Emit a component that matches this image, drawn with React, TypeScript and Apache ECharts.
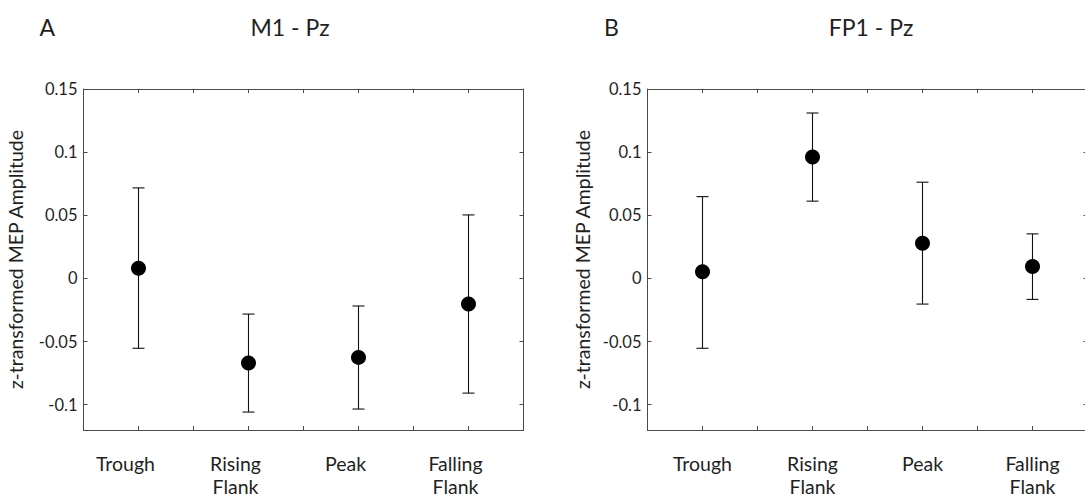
import React, { useEffect, useRef } from "react";
import * as echarts from "echarts";

const categories = ["Trough", "Rising\nFlank", "Peak", "Falling\nFlank"];
const yTicks = [-0.1, -0.05, 0, 0.05, 0.1, 0.15];
const xTickSteps = [0, 1, 2, 3, 4, 5, 6, 7, 8];

const panelLetters = ["A", "B"];
const panelTitles = ["M1 - Pz", "FP1 - Pz"];

const m1Mean = [0.008, -0.067, -0.0625, -0.0203];
const m1Lower = [-0.0553, -0.1058, -0.1034, -0.0908];
const m1Upper = [0.0717, -0.0282, -0.0218, 0.0503];

const fp1Mean = [0.0053, 0.0962, 0.0279, 0.0095];
const fp1Lower = [-0.0553, 0.0612, -0.0203, -0.0166];
const fp1Upper = [0.0648, 0.131, 0.0762, 0.0353];

const FONT = "Lato";
const TXT = "#1f1f1f";
const AX = "#4a4a4a";

export default function App() {
  const ref = useRef<HTMLDivElement>(null);

  useEffect(() => {
    if (!ref.current) return;
    const chart = echarts.init(ref.current, undefined, { renderer: "svg" });

    const grids = [
      { left: 83.5, right: 1085 - 523.5, top: 89, bottom: 69 },
      { left: 647.5, right: 1085 - 1087.5, top: 89, bottom: 69 },
    ];

    const xAxes: any[] = [];
    const yAxes: any[] = [];
    const series: any[] = [];

    const panels = [
      { mean: m1Mean, lo: m1Lower, hi: m1Upper, labelShift: 26 },
      { mean: fp1Mean, lo: fp1Lower, hi: fp1Upper, labelShift: 0 },
    ];

    panels.forEach((p, g) => {
      const catIdx = xAxes.length;
      xAxes.push({
        type: "category",
        gridIndex: g,
        data: categories,
        position: "bottom",
        boundaryGap: true,
        axisLine: { show: false, onZero: false },
        axisTick: { show: false },
        splitLine: { show: false },
        axisLabel: {
          interval: 0,
          margin: 22,
          fontFamily: FONT,
          fontSize: 19.5,
          lineHeight: 23,
          color: TXT,
          align: "center",
          padding: [0, p.labelShift, 0, 0],
        },
      });
      ["bottom", "top"].forEach((pos) => {
        xAxes.push({
          type: "value",
          gridIndex: g,
          position: pos,
          min: 0,
          max: 8,
          interval: 1,
          axisLine: { show: true, onZero: false, lineStyle: { color: AX, width: 1 } },
          axisTick: {
            show: true,
            inside: true,
            length: 4,
            lineStyle: { color: AX, width: 1 },
            customValues: xTickSteps,
          },
          axisLabel: { show: false },
          splitLine: { show: false },
        });
      });
      const yIdx = yAxes.length;
      ["left", "right"].forEach((pos) => {
        yAxes.push({
          type: "value",
          gridIndex: g,
          position: pos,
          min: -0.12,
          max: 0.15,
          name: pos === "left" ? "z-transformed MEP Amplitude" : "",
          nameLocation: "middle",
          nameGap: g === 0 ? 58 : 55,
          nameRotate: 90,
          nameTextStyle: { fontFamily: FONT, fontSize: 19.5, color: TXT },
          axisLine: { show: true, onZero: false, lineStyle: { color: AX, width: 1 } },
          axisTick: {
            show: true,
            inside: true,
            length: 4,
            lineStyle: { color: AX, width: 1 },
            customValues: yTicks,
          },
          axisLabel: {
            show: pos === "left",
            customValues: yTicks,
            margin: 6,
            fontFamily: FONT,
            fontSize: 16.5,
            color: TXT,
            formatter: (v: number) => String(Math.round(v * 1000) / 1000),
          },
          splitLine: { show: false },
        });
      });

      series.push({
        type: "custom",
        xAxisIndex: catIdx,
        yAxisIndex: yIdx,
        data: categories.map((_, i) => [i, p.lo[i], p.hi[i]]),
        encode: { x: 0, y: [1, 2] },
        z: 2,
        renderItem: (params: any, api: any) => {
          const x = api.value(0);
          const a = api.coord([x, api.value(1)]);
          const b = api.coord([x, api.value(2)]);
          const w = 6;
          const st = { stroke: "#111", lineWidth: 1.1 };
          return {
            type: "group",
            children: [
              { type: "line", shape: { x1: a[0], y1: a[1], x2: b[0], y2: b[1] }, style: st },
              { type: "line", shape: { x1: a[0] - w, y1: a[1], x2: a[0] + w, y2: a[1] }, style: st },
              { type: "line", shape: { x1: b[0] - w, y1: b[1], x2: b[0] + w, y2: b[1] }, style: st },
            ],
          };
        },
      });
      series.push({
        type: "scatter",
        xAxisIndex: catIdx,
        yAxisIndex: yIdx,
        data: p.mean,
        symbol: "circle",
        symbolSize: 15,
        itemStyle: { color: "#000", opacity: 1 },
        z: 3,
      });
    });

    const titleY = 27;
    const graphic: any[] = [
      { type: "text", x: 39.5, y: titleY, style: { text: panelLetters[0], fontFamily: FONT, fontSize: 23, fill: TXT, verticalAlign: "middle", align: "left" } },
      { type: "text", x: 290, y: titleY, style: { text: panelTitles[0], fontFamily: FONT, fontSize: 23, fill: TXT, verticalAlign: "middle", align: "center" } },
      { type: "text", x: 604, y: titleY, style: { text: panelLetters[1], fontFamily: FONT, fontSize: 23, fill: TXT, verticalAlign: "middle", align: "left" } },
      { type: "text", x: 871, y: titleY, style: { text: panelTitles[1], fontFamily: FONT, fontSize: 23, fill: TXT, verticalAlign: "middle", align: "center" } },
    ];

    chart.setOption({
      animation: false,
      backgroundColor: "#ffffff",
      grid: grids.map((g) => ({ ...g, containLabel: false, outerBoundsMode: "none" })),
      xAxis: xAxes,
      yAxis: yAxes,
      series,
      graphic,
    });

    return () => chart.dispose();
  }, []);

  return (
    <div
      ref={ref}
      style={{ position: "fixed", left: 0, top: 0, width: 1085, height: 499, background: "#fff" }}
    />
  );
}
